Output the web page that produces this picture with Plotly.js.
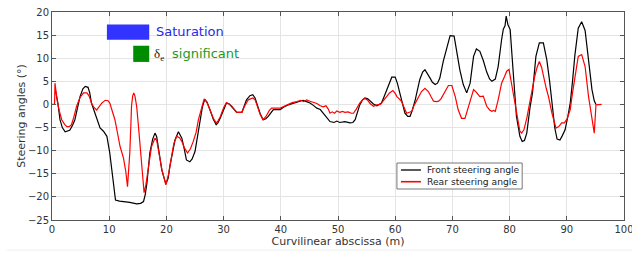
<!DOCTYPE html>
<html>
<head>
<meta charset="utf-8">
<script src="https://cdn.plot.ly/plotly-3.0.1.min.js"></script>
<style>html,body{margin:0;padding:0;background:#fff;}#chart{width:632px;height:255px;}</style>
</head>
<body>
<div id="chart"></div>
<script>
const frontX = [0.6,1.0,1.4,1.8,2.3,3.1,3.6,4.0,4.5,4.9,5.4,5.8,6.3,6.6,6.9,7.2,7.5,8.0,8.4,9.0,9.6,10.1,10.4,10.7,11.1,11.8,12.7,13.6,14.8,15.5,16.0,16.3,16.6,17.1,17.6,18.0,18.3,18.6,19.2,19.9,20.3,20.6,21.0,21.5,22.1,22.7,23.1,23.5,24.1,24.5,25.0,25.5,25.9,26.3,26.7,27.1,27.6,28.2,28.7,29.0,29.4,30.0,30.5,31.0,31.4,32.3,33.2,33.6,34.0,34.6,35.1,35.5,35.8,36.4,36.9,37.4,37.8,38.3,38.7,39.9,40.6,41.3,42.0,42.8,43.9,44.5,45.1,45.7,46.3,46.9,47.4,48.0,48.6,49.3,49.8,50.3,51.2,52.1,52.6,53.0,53.4,53.8,54.3,54.7,55.2,55.6,56.2,56.8,57.2,57.6,58.0,58.5,59.0,59.4,60.0,60.4,60.8,61.2,61.7,62.2,62.6,63.0,63.5,64.3,64.8,65.2,65.6,66.1,66.5,67.0,67.4,67.8,68.4,69.0,69.6,70.3,70.7,71.3,71.9,72.3,72.5,73.1,73.7,74.2,74.8,75.4,76.0,76.5,76.9,77.5,78.0,78.6,78.9,79.2,79.4,79.7,80.1,80.6,81.2,81.8,82.2,82.6,83.0,83.6,84.0,84.6,85.2,85.9,86.5,87.0,87.4,87.9,88.3,88.8,89.2,89.7,90.2,90.6,91.0,91.4,92.0,92.6,93.2,93.8,94.4,94.8,95.1];
const frontY = [3.0,0.5,-3.3,-5.0,-5.9,-5.6,-4.5,-3.3,-0.5,1.7,3.4,3.9,3.7,2.5,0.3,-0.8,-1.9,-4.0,-5.1,-5.8,-6.9,-10.5,-13.5,-16.3,-20.7,-20.9,-21.0,-21.2,-21.5,-21.4,-21.0,-19.5,-17.0,-10.5,-7.5,-6.2,-7.0,-9.1,-14.2,-17.2,-16.0,-13.4,-10.5,-7.7,-5.9,-7.3,-9.5,-12.0,-12.4,-11.8,-10.2,-6.5,-3.3,-0.5,1.1,0.5,-1.1,-3.2,-4.4,-4.0,-3.0,-1.0,0.3,0.1,-0.4,-1.7,-1.7,-0.5,1.0,1.9,2.1,1.4,0.3,-2.0,-3.3,-3.1,-2.6,-1.7,-1.1,-1.1,-0.5,-0.1,0.2,0.4,0.9,0.6,0.3,-0.2,-0.8,-1.1,-1.9,-2.8,-3.7,-3.9,-3.6,-3.9,-3.7,-4.0,-3.9,-3.3,-1.5,-0.1,1.0,1.4,1.2,0.7,0.1,-0.3,0.0,0.3,1.5,3.2,5.0,5.9,5.9,4.5,2.5,0.3,-1.9,-2.6,-2.6,-1.2,1.0,5.4,7.0,7.5,6.8,5.7,4.8,4.3,4.6,5.7,9.3,11.9,14.9,14.8,11.9,7.5,4.3,2.8,2.5,4.6,10.4,12.0,11.5,9.5,7.0,5.5,5.0,5.5,8.2,14.0,16.3,17.0,19.1,17.3,16.2,7.5,-2.6,-6.9,-8.0,-7.8,-6.2,-0.4,2.5,10.4,13.3,13.3,9.7,5.0,1.0,-5.1,-7.5,-7.7,-6.8,-5.5,-2.5,0.3,5.0,10.5,16.5,17.9,16.0,9.7,3.2,0.8,0.0];
const rearX = [0,0.45,0.52,0.7,0.93,1.3,1.7,2.2,2.6,3.0,3.4,3.8,4.3,4.9,5.5,6.1,6.5,6.9,7.3,7.8,8.2,8.7,9.3,9.8,10.1,10.6,11.0,11.5,11.9,12.5,12.9,13.2,13.4,13.6,13.8,13.9,14.1,14.3,14.5,14.8,15.1,15.4,15.8,16.1,16.4,16.8,17.4,18.0,18.3,18.6,19.2,19.9,20.4,20.9,21.3,21.8,22.3,22.7,23.2,23.7,24.2,24.7,25.2,25.6,26.1,26.6,27.1,27.6,28.2,28.7,29.0,29.4,30.0,30.5,31.0,31.4,32.3,33.2,33.7,34.3,35.1,35.5,35.8,36.4,36.9,37.4,38.0,38.4,39.9,40.6,41.3,42.0,42.8,43.5,44.0,44.5,45.1,45.7,46.3,46.9,47.4,47.9,48.3,48.6,49.0,49.4,49.8,50.3,50.8,51.2,51.8,52.3,52.7,53.2,53.8,54.3,54.7,55.2,55.6,56.2,56.8,57.4,58.0,58.5,59.0,59.6,60.0,60.3,60.7,61.1,61.5,62.0,62.5,62.9,63.3,63.8,64.3,64.6,65.2,65.8,66.3,66.7,67.2,67.6,68.0,68.4,68.9,69.3,69.9,70.2,70.5,71.0,71.3,71.6,72.2,72.5,72.8,73.2,73.7,74.2,74.5,74.8,75.4,75.7,76.0,76.5,76.9,77.2,77.5,78.0,78.6,79.1,79.5,79.9,80.4,81.0,81.4,81.8,82.1,82.5,83.0,83.5,84.0,84.4,84.8,85.2,85.6,85.9,86.4,86.8,87.4,88.1,88.6,89.1,89.6,90.1,90.6,91.0,91.4,92.0,92.6,93.2,93.8,94.4,94.8,95.1,95.5,96.1];
const rearY = [0,0,4.6,2.5,0.7,-1.5,-3.3,-4.3,-4.8,-4.8,-4.4,-2.8,-0.4,1.5,2.5,2.5,1.8,0.3,-0.6,-1.2,-0.6,0.3,0.9,0.8,0.3,-1.5,-3.3,-6.5,-9.1,-11.6,-14.5,-17.8,-15.0,-10.5,-4.0,-0.4,1.8,2.5,1.8,-0.4,-4.5,-9.1,-15.0,-19.1,-17.5,-14.2,-9.1,-7.3,-7.8,-9.8,-14.0,-17.4,-15.0,-11.3,-8.5,-6.9,-7.2,-8.0,-9.5,-10.5,-9.6,-8.0,-6.0,-3.3,-0.8,1.2,0.4,-1.1,-3.0,-4.0,-3.6,-2.7,-0.7,0.4,0.1,-0.3,-1.7,-1.7,-0.3,1.0,1.4,1.0,0.0,-2.2,-3.3,-2.6,-1.3,-0.8,-0.8,-0.4,0.0,0.4,0.6,0.9,0.6,1.0,0.7,0.4,0.2,-0.3,-0.5,-0.3,-1.0,-1.9,-1.6,-1.9,-1.4,-1.7,-1.5,-1.7,-1.6,-1.9,-1.9,-1.0,0.3,1.0,1.3,0.9,0.2,-0.4,-0.1,0.0,0.8,1.7,2.5,3.0,2.4,1.7,1.2,0.7,-0.5,-1.9,-1.7,-1.5,-0.2,1.0,2.2,2.8,3.5,2.8,1.6,0.7,0.6,0.7,1.2,2.0,3.3,4.1,4.1,3.0,1.7,-1.1,-2.3,-3.0,-3.0,-1.8,-0.4,1.5,3.2,2.6,2.0,1.7,1.8,0.8,-0.4,-1.2,-1.5,-1.3,-1.5,1.0,4.6,6.0,7.2,7.6,3.9,-0.4,-3.5,-5.8,-6.2,-5.5,-3.0,0.3,3.5,6.1,8.0,9.3,8.0,6.1,3.5,1.7,-1.9,-5.1,-4.8,-4.0,-4.0,-3.0,-1.1,2.5,6.1,10.4,10.8,8.2,1.7,-2.6,-6.2,-0.1,0,0];
const seriesNames = ["Front steering angle", "Rear steering angle"];
const seriesColors = ["#000000", "#ff0000"];
const xTicks = [0,10,20,30,40,50,60,70,80,90,100];
const yTicks = [-25,-20,-15,-10,-5,0,5,10,15,20];

const traces = [
  {x: frontX, y: frontY, type: 'scatter', mode: 'lines', name: seriesNames[0], line: {color: seriesColors[0], width: 1.2}},
  {x: rearX, y: rearY, type: 'scatter', mode: 'lines', name: seriesNames[1], line: {color: seriesColors[1], width: 1.2}}
];

const axisCommon = {
  showgrid: true, gridcolor: '#e4e4e4', gridwidth: 1,
  zeroline: false, showline: true, linecolor: '#555', linewidth: 1, mirror: 'allticks',
  ticks: 'inside', ticklen: 4, tickcolor: '#555', ticklabeloverflow: 'allow',
  tickfont: {family: 'DejaVu Sans', size: 10, color: '#333'}
};

// manual compact legend box (paper coords)
const lg = {x0: 0.603, x1: 0.822, y0: 0.149, y1: 0.274, lx0: 0.610, lx1: 0.645, tx: 0.652, rows: [0.2404, 0.1841]};
const legendShapes = [
  {type: 'rect', xref: 'paper', yref: 'paper', x0: lg.x0, x1: lg.x1, y0: lg.y0, y1: lg.y1, fillcolor: '#fff', line: {color: '#777', width: 1}, layer: 'above'}
].concat(seriesNames.map((n, i) => ({type: 'line', xref: 'paper', yref: 'paper', x0: lg.lx0, x1: lg.lx1, y0: lg.rows[i], y1: lg.rows[i],
  line: {color: seriesColors[i], width: i === 0 ? 1.3 : 1.6}, layer: 'above'})));
const legendTexts = seriesNames.map((n, i) => ({xref: 'paper', yref: 'paper', x: lg.tx, y: lg.rows[i], xanchor: 'left', yanchor: 'middle',
  showarrow: false, text: n, font: {family: 'DejaVu Sans', size: 9.2, color: '#222'}}));

const layout = {
  width: 632, height: 255,
  margin: {l: 52, r: 8, t: 12, b: 35},
  paper_bgcolor: '#fff', plot_bgcolor: '#fff',
  font: {family: 'DejaVu Sans', size: 11, color: '#333'},
  showlegend: false,
  xaxis: Object.assign({}, axisCommon, {range: [0, 100], tickvals: xTicks,
    title: {text: 'Curvilinear abscissa (m)', font: {family: 'DejaVu Sans', size: 11, color: '#333'}, standoff: 2}}),
  yaxis: Object.assign({}, axisCommon, {range: [-25, 20], tickvals: yTicks,
    title: {text: 'Steering angles (°)', font: {family: 'DejaVu Sans', size: 11, color: '#333'}, standoff: 0}}),
  shapes: [
    {type: 'rect', xref: 'x', yref: 'y', x0: 9.6, x1: 17.0, y0: 14.0, y1: 17.3, fillcolor: '#3333ff', line: {width: 0}},
    {type: 'rect', xref: 'x', yref: 'y', x0: 14.2, x1: 17.0, y0: 9.2, y1: 12.7, fillcolor: '#008c00', line: {width: 0}},
    {type: 'line', xref: 'paper', yref: 'paper', x0: -0.079, x1: 1.014, y0: -0.145, y1: -0.145, line: {color: '#eeeeee', width: 1}}
  ].concat(legendShapes),
  annotations: [
    {xref: 'x', yref: 'y', x: 17.9, y: 15.8, xanchor: 'left', yanchor: 'middle', showarrow: false,
     text: 'Saturation', font: {family: 'DejaVu Sans', size: 13, color: '#2a2ae6'}},
    {xref: 'x', yref: 'y', x: 17.4, y: 10.8, xanchor: 'left', yanchor: 'middle', showarrow: false,
     text: 'δ<sub>e</sub>', font: {family: 'Liberation Serif', size: 13, color: '#222'}},
    {xref: 'x', yref: 'y', x: 20.6, y: 11.0, xanchor: 'left', yanchor: 'middle', showarrow: false,
     text: 'significant', font: {family: 'DejaVu Sans', size: 13, color: '#1a9a1a'}}
  ].concat(legendTexts)
};

Plotly.newPlot('chart', traces, layout, {displayModeBar: false, staticPlot: true});
</script>
</body>
</html>
